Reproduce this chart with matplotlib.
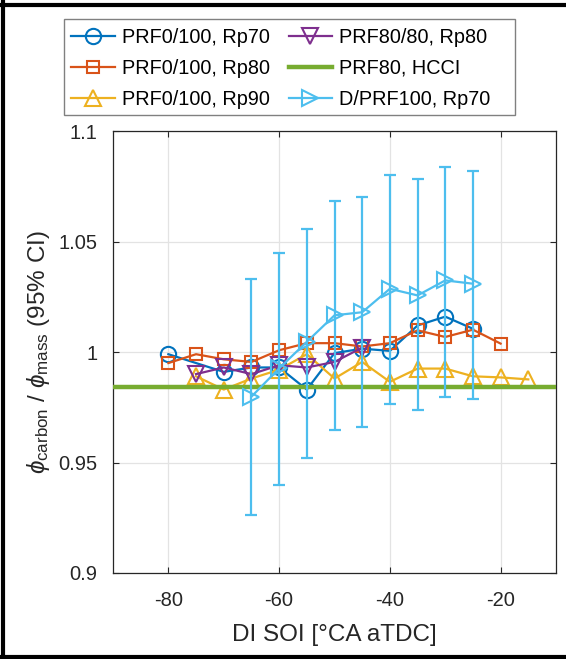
import matplotlib
matplotlib.use("Agg")
import matplotlib.pyplot as plt
from matplotlib.lines import Line2D
from matplotlib.patches import Rectangle

plt.rcParams['font.family'] = ['Liberation Sans', 'DejaVu Sans']
plt.rcParams['mathtext.fontset'] = 'custom'
plt.rcParams['mathtext.rm'] = 'Liberation Sans'
plt.rcParams['mathtext.it'] = 'Liberation Sans:italic'
plt.rcParams['axes.unicode_minus'] = False

# Data
x_rp70 = [-80, -70, -65, -60, -55, -50, -45, -40, -35, -30, -25]
y_rp70 = [0.999, 0.991, 0.993, 0.993, 0.983, 0.9995, 1.0015, 1.0005, 1.012, 1.016, 1.0105]

x_rp80 = [-80, -75, -70, -65, -60, -55, -50, -45, -40, -35, -30, -25, -20]
y_rp80 = [0.995, 0.999, 0.9967, 0.9955, 1.0008, 1.004, 1.004, 1.0025, 1.004, 1.0098, 1.0068, 1.0101, 1.0038]

x_rp90 = [-75, -70, -65, -60, -55, -50, -45, -40, -35, -30, -25, -20, -15]
y_rp90 = [0.989, 0.983, 0.988, 0.992, 0.999, 0.988, 0.9955, 0.9865, 0.9925, 0.9925, 0.989, 0.9885, 0.9876]

x_prf80 = [-75, -70, -65, -60, -55, -50, -45]
y_prf80 = [0.990, 0.993, 0.990, 0.994, 0.993, 0.9955, 1.002]

hcci_value = 0.9843

x_dprf = [-65, -60, -55, -50, -45, -40, -35, -30, -25]
y_dprf = [0.9798, 0.9926, 1.0046, 1.0166, 1.018, 1.0286, 1.0256, 1.0324, 1.0309]
y_dprf_hi = [1.0331, 1.0447, 1.0557, 1.0682, 1.0703, 1.0801, 1.0781, 1.0838, 1.0821]
y_dprf_lo = [0.9264, 0.9399, 0.9522, 0.9647, 0.9662, 0.9763, 0.9736, 0.9797, 0.9787]

xticks = [-80, -60, -40, -20]
yticks = [0.9, 0.95, 1.0, 1.05, 1.1]
yticklabels = ['0.9', '0.95', '1', '1.05', '1.1']

c_blue = '#0072BD'
c_orange = '#D95319'
c_yellow = '#EDB120'
c_purple = '#7E2F8E'
c_green = '#77AC30'
c_cyan = '#4DBEEE'
c_text = '#262626'

W, H = 566, 659
fig = plt.figure(figsize=(W / 100, H / 100), dpi=100)
ax = fig.add_axes([113 / W, 1 - 573 / H, (556 - 113) / W, (573 - 131) / H])

mew = 1.5
lw = 1.6
ax.plot(x_rp70, y_rp70, '-o', color=c_blue, mfc='none', ms=11, mew=mew, lw=lw, label='PRF0/100, Rp70', zorder=3)
ax.plot(x_rp80, y_rp80, '-s', color=c_orange, mfc='none', ms=8.5, mew=mew, lw=lw, label='PRF0/100, Rp80', zorder=3)
ax.plot(x_rp90, y_rp90, '-^', color=c_yellow, mfc='none', ms=12, mew=mew, lw=lw, label='PRF0/100, Rp90', zorder=3)
ax.plot(x_prf80, y_prf80, '-v', color=c_purple, mfc='none', ms=12, mew=mew, lw=lw, label='PRF80/80, Rp80', zorder=3)
ax.axhline(hcci_value, color=c_green, lw=3.2, label='PRF80, HCCI', zorder=3)
yerr = [[y - lo for y, lo in zip(y_dprf, y_dprf_lo)], [hi - y for y, hi in zip(y_dprf, y_dprf_hi)]]
ax.errorbar(x_dprf, y_dprf, yerr=yerr, fmt='none', ecolor=c_cyan, elinewidth=1.6, capsize=4.3, capthick=1.6, zorder=4)
ax.plot(x_dprf, y_dprf, '->', color=c_cyan, mfc='none', ms=12, mew=mew, lw=lw, label='D/PRF100, Rp70', zorder=4)

ax.set_xlim(-90, -10)
ax.set_ylim(0.9, 1.1)
ax.set_xticks(xticks)
ax.set_yticks(yticks)
ax.set_yticklabels(yticklabels)
ax.grid(True, color='#e3e3e3', lw=0.9, zorder=0)
ax.set_axisbelow(True)
ax.tick_params(direction='in', top=True, right=True, length=4, width=0.8, colors=c_text, labelsize=14.5)
ax.tick_params(axis='x', pad=13)
ax.tick_params(axis='y', pad=11)
for s in ax.spines.values():
    s.set_color(c_text)
    s.set_linewidth(0.9)
ax.set_xlabel('DI SOI [°CA aTDC]', fontsize=17.5, color=c_text, labelpad=10)
ax.set_ylabel(r'$\phi_{\mathrm{carbon}}$ / $\phi_{\mathrm{mass}}$ (95% CI)', fontsize=17.5, color=c_text, labelpad=5)

leg = fig.legend(loc='upper left', bbox_to_anchor=(71 / W, 1 - 28 / H), ncol=2, fontsize=14.3,
                 frameon=False, handlelength=2.2,
                 columnspacing=0.95, handletextpad=0.35, labelspacing=0.6, borderpad=0,
                 borderaxespad=0)
fig.add_artist(Rectangle((64 / W, 1 - 115 / H), (515 - 64) / W, (115 - 19) / H,
                         transform=fig.transFigure, fill=False, edgecolor='#808080', lw=1.0))

# outer frame (top, left, bottom)
fig.add_artist(Line2D([0.005, 0.005], [0, 1], transform=fig.transFigure, color='black', lw=3))
fig.add_artist(Line2D([0, 1], [1 - 5 / H, 1 - 5 / H], transform=fig.transFigure, color='black', lw=3))
fig.add_artist(Line2D([0, 1], [2 / H, 2 / H], transform=fig.transFigure, color='black', lw=3))

fig.savefig('out.png', dpi=100)
